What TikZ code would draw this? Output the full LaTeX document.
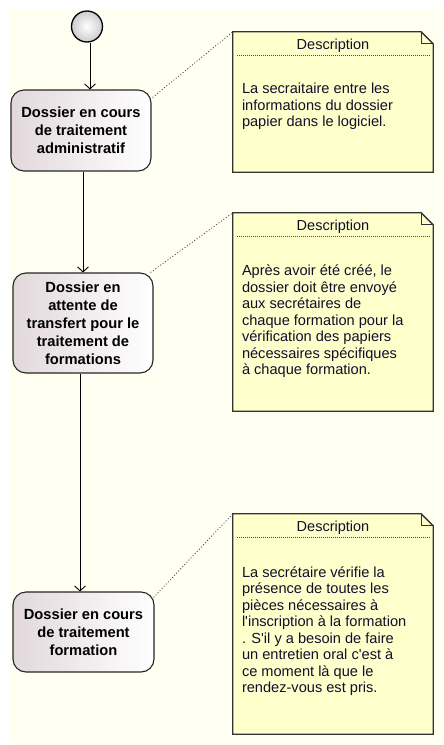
\documentclass[tikz,border=0pt]{standalone}
\usepackage{fontspec}
\setmainfont{Liberation Sans}
\usetikzlibrary{arrows.meta,calc}
\definecolor{bgcream}{HTML}{FFFFF2}
\definecolor{notefill}{HTML}{FFFFCC}
\definecolor{boxleft}{HTML}{E2D8DC}
\definecolor{inkdark}{HTML}{10102A}
\newcommand{\aps}{\textquotesingle}
\begin{document}
\begin{tikzpicture}[x=1pt,y=-1pt,
  statebox/.style={draw=black!85, line width=1.1pt, rounded corners=13pt,
    left color=boxleft, right color=white, align=center, inner sep=0pt,
    font=\fontsize{14.7}{18}\selectfont\bfseries, text=black},
  notebox/.style={inner sep=0pt, minimum width=200pt},
  noteline/.style={draw=black!80, line width=1.3pt, line join=miter},
  desctext/.style={font=\fontsize{14.5}{16.5}\selectfont, text=inkdark, inner sep=0pt},
  bodytext/.style={font=\fontsize{14.6}{16.5}\selectfont, text=inkdark, align=left, inner sep=0pt, anchor=north west},
  septline/.style={draw=black!70, line width=0.8pt, dash pattern=on 0.8pt off 1.2pt},
  dotline/.style={draw=black!75, line width=0.8pt, dash pattern=on 1pt off 2pt},
  arr/.style={draw=black, line width=0.9pt, -{Straight Barb[length=5pt,width=11pt]}}
]
\useasboundingbox (0,0) rectangle (444,745);
\fill[bgcream] (10,10) rectangle (444,745);

% start node
\node[circle, draw=black, line width=1.3pt, minimum size=31pt, inner sep=0pt,
  inner color=white, outer color=gray!40] (start) at (87,26.5) {};

% states
\node[statebox, minimum width=140pt, minimum height=81pt] (box1) at (81,130.5)
  {Dossier en cours\\de traitement\\administratif};
\node[statebox, minimum width=140pt, minimum height=100pt] (box2) at (83,323)
  {Dossier en\\attente de\\transfert pour le\\traitement de\\formations};
\node[statebox, minimum width=141pt, minimum height=80pt] (box3) at (83.5,632)
  {Dossier en cours\\de traitement\\formation};

% transitions
\draw[arr] ($(start.south)+(3,0)$) -- ($(box1.north)+(9,0)$);
\draw[arr] ($(box1.south)+(2,0)$) -- (box2.north);
\draw[arr] ($(box2.south)+(-3,0)$) -- ($(box3.north)+(-3.5,0)$);

% notes
\foreach \n/\cx/\cy/\h in {n1/333/102/140, n2/333/312/198, n3/333/624/220}{
  \node[notebox, minimum height=\h pt] (\n) at (\cx,\cy) {};
  \draw[noteline, fill=notefill] (\n.north west) -- ($(\n.north east)+(-12,0)$)
    -- ($(\n.north east)+(0,12)$) -- (\n.south east) -- (\n.south west) -- cycle;
  \draw[noteline] ($(\n.north east)+(-12,0)$) |- ($(\n.north east)+(0,12)$);
  \node[desctext] (\n d) at ($(\n.north)+(0,13.5)$) {Description};
  \draw[septline] ($(\n.north west)+(4,24)$) -- ($(\n.north east)+(-4,24)$);
}

\node[bodytext] (t1) at ($(n1.north west)+(9,51)$)
  {La secraitaire entre les\\informations du dossier\\papier dans le logiciel.};
\node[bodytext] (t2) at ($(n2.north west)+(9,52)$)
  {Après avoir été créé, le\\dossier doit être envoyé\\aux secrétaires de\\chaque formation pour la\\vérification des papiers\\nécessaires spécifiques\\à chaque formation.};
\node[bodytext] (t3) at ($(n3.north west)+(9,52.5)$)
  {La secrétaire vérifie la\\présence de toutes les\\pièces nécessaires à\\l\aps inscription à la formation\\. S\aps il y a besoin de faire\\un entretien oral c\aps est à\\ce moment là que le\\rendez-vous est pris.};

% note links
\draw[dotline] ($(box1.north east)+(1,8)$) -- (n1.north west);
\draw[dotline] ($(box2.north east)+(-3,0)$) -- (n2.north west);
\draw[dotline] ($(box3.north east)+(-1,6)$) -- (n3.north west);
\end{tikzpicture}
\end{document}
